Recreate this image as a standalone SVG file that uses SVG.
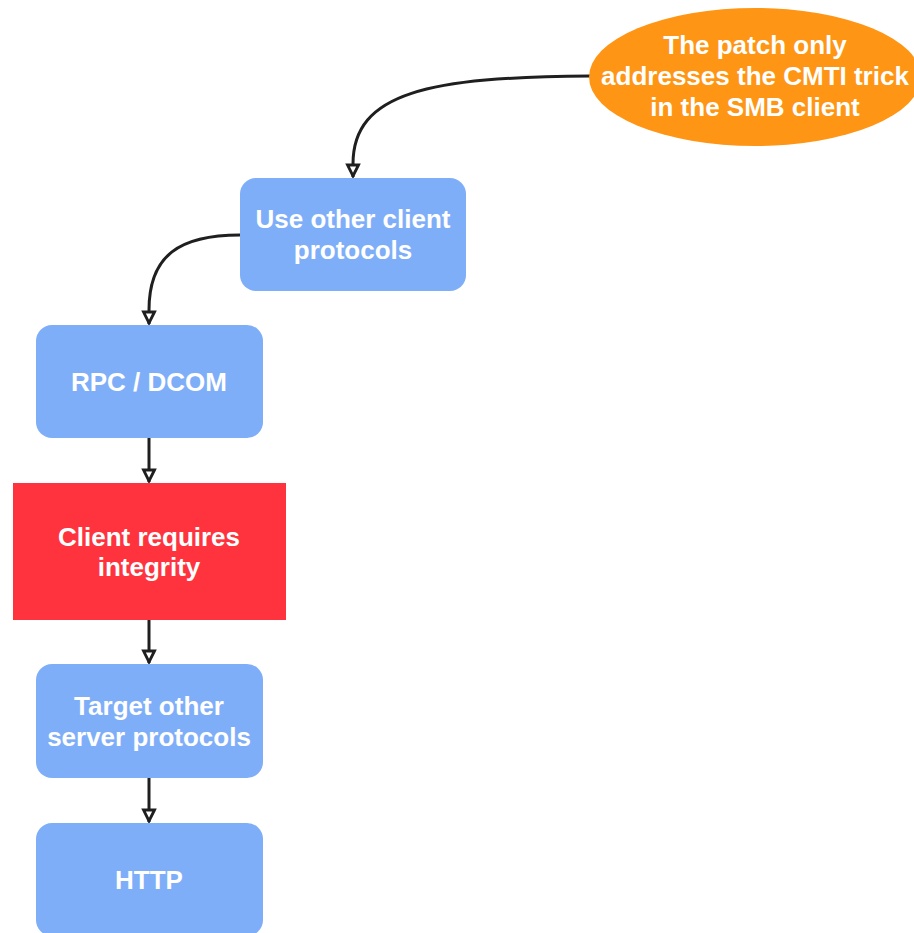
<svg xmlns="http://www.w3.org/2000/svg" width="914" height="933" viewBox="0 0 914 933">
  <style>
    .box { fill: #7FAEF8; }
    .label { font-family: "Liberation Sans", Arial, sans-serif; font-weight: bold; font-size: 26px; fill: #FFFFFF; text-anchor: middle; dominant-baseline: central; }
    .edge { fill: none; stroke: #1F1F1F; stroke-width: 3; marker-end: url(#arrow); }
  </style>
  <defs>
    <marker id="arrow" viewBox="0 0 16 16" refX="14" refY="8" markerWidth="16" markerHeight="16" markerUnits="userSpaceOnUse" orient="auto">
      <path d="M2,2.5 L13,8 L2,13.5 Z" fill="#FFFFFF" stroke="#1F1F1F" stroke-width="2.8" stroke-linejoin="miter"/>
    </marker>
  </defs>
  <rect width="914" height="933" fill="#FFFFFF"/>

  <g id="connectors">
    <path class="edge" d="M590,76 C430,77 353,92 353,164 L353,177"/>
    <path class="edge" d="M240,235 C180,235 149,255 149,310 L149,324"/>
    <path class="edge" d="M149,438 L149,482"/>
    <path class="edge" d="M149,620 L149,663"/>
    <path class="edge" d="M149,778 L149,822"/>
  </g>

  <g id="patch-note">
    <ellipse cx="755" cy="77" rx="166" ry="69" fill="#FF9514"/>
    <text class="label" x="755" y="45">The patch only</text>
    <text class="label" x="755" y="76">addresses the CMTI trick</text>
    <text class="label" x="755" y="107">in the SMB client</text>
  </g>

  <g id="other-client-protocols">
    <rect class="box" x="240" y="178" width="226" height="113" rx="16"/>
    <text class="label" x="353" y="219">Use other client</text>
    <text class="label" x="353" y="250">protocols</text>
  </g>

  <g id="rpc-dcom">
    <rect class="box" x="36" y="325" width="227" height="113" rx="16"/>
    <text class="label" x="149" y="382">RPC / DCOM</text>
  </g>

  <g id="client-integrity">
    <rect x="13" y="483" width="273" height="137" fill="#FF333D"/>
    <text class="label" x="149" y="537">Client requires</text>
    <text class="label" x="149" y="567">integrity</text>
  </g>

  <g id="other-server-protocols">
    <rect class="box" x="36" y="664" width="227" height="114" rx="16"/>
    <text class="label" x="149" y="706">Target other</text>
    <text class="label" x="149" y="737">server protocols</text>
  </g>

  <g id="http">
    <rect class="box" x="36" y="823" width="227" height="113" rx="16"/>
    <text class="label" x="149" y="880">HTTP</text>
  </g>
</svg>
